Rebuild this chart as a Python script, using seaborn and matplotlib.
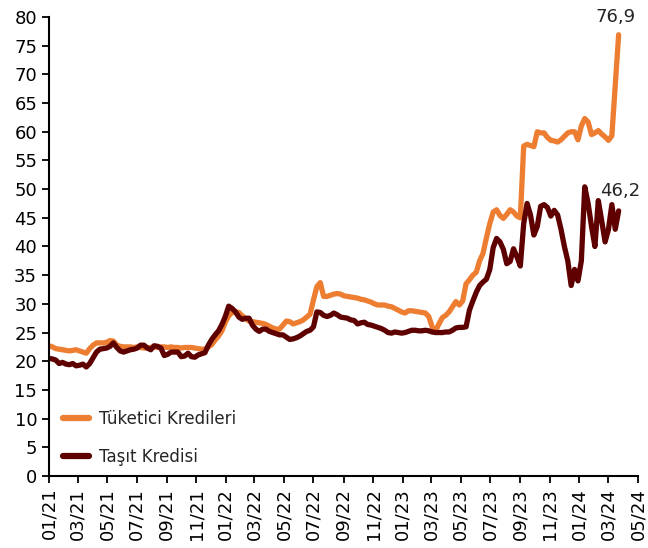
import matplotlib
matplotlib.use("Agg")
import matplotlib.pyplot as plt
import matplotlib.dates as mdates
import seaborn as sns
import pandas as pd

start_date = "2021-01-01"
n_weeks = 169

tuketici = [
    22.7, 22.5, 22.2, 22.1, 22.0, 21.9, 21.8, 21.9, 22.0, 21.8,
    21.6, 21.4, 22.2, 22.8, 23.2, 23.2, 23.2, 23.3, 23.6, 23.5,
    22.8, 22.6, 22.5, 22.5, 22.5, 22.4, 22.5, 22.4, 22.3, 22.3,
    22.4, 22.5, 22.4, 22.5, 22.5, 22.4, 22.5, 22.4, 22.4, 22.3,
    22.4, 22.4, 22.4, 22.3, 22.2, 22.1, 22.1, 22.5, 22.9, 23.7,
    24.4, 25.3, 26.8, 27.9, 28.5, 28.6, 28.5, 27.9, 27.4, 27.0,
    26.9, 26.8, 26.7, 26.6, 26.4, 26.1, 25.8, 25.6, 25.6, 26.3,
    27.0, 26.9, 26.5, 26.7, 26.9, 27.2, 27.7, 28.2, 30.7, 33.0,
    33.7, 31.3, 31.3, 31.5, 31.7, 31.8, 31.7, 31.4, 31.3, 31.2,
    31.1, 31.0, 30.8, 30.7, 30.5, 30.3, 30.0, 29.8, 29.8, 29.8,
    29.6, 29.5, 29.2, 28.9, 28.6, 28.4, 28.8, 28.8, 28.7, 28.6,
    28.5, 28.4, 27.8, 26.0, 25.3, 26.5, 27.6, 28.0, 28.6, 29.5,
    30.4, 29.8, 30.5, 33.5, 34.2, 35.0, 35.5, 37.5, 38.8, 41.5,
    44.0, 46.0, 46.4, 45.4, 44.9, 45.6, 46.4, 46.0, 45.3, 45.0,
    57.5, 57.8, 57.6, 57.4, 60.0, 59.8, 59.8, 59.0, 58.5, 58.4,
    58.2, 58.6, 59.2, 59.8, 60.0, 60.0, 58.6, 61.0, 62.3, 61.7,
    59.5, 59.8, 60.2, 59.6, 59.1, 58.5, 59.3, 68.0, 76.9,
]

tasit = [
    20.5, 20.4, 20.2, 19.6, 19.8, 19.5, 19.4, 19.6, 19.2, 19.3,
    19.5, 19.0, 19.6, 20.6, 21.6, 22.1, 22.2, 22.3, 22.6, 23.2,
    22.4, 21.8, 21.6, 21.8, 22.0, 22.1, 22.3, 22.8, 22.8, 22.3,
    22.0, 22.7, 22.6, 22.3, 21.0, 21.2, 21.6, 21.6, 21.6, 20.8,
    20.9, 21.4, 20.8, 20.7, 21.1, 21.3, 21.5, 22.8, 23.8, 24.6,
    25.3, 26.4, 27.8, 29.6, 29.2, 28.6, 27.7, 27.3, 27.5, 27.5,
    26.3, 25.6, 25.2, 25.6, 25.6, 25.2, 25.0, 24.8, 24.6, 24.6,
    24.2, 23.8, 23.9, 24.1, 24.4, 24.8, 25.2, 25.4, 26.0, 28.6,
    28.5, 28.0, 27.8, 28.0, 28.4, 28.1, 27.7, 27.6, 27.5, 27.2,
    27.1, 26.5, 26.7, 26.8, 26.4, 26.3, 26.1, 25.9, 25.7, 25.4,
    25.0, 24.9, 25.1, 25.0, 24.9, 25.0, 25.2, 25.4, 25.4, 25.3,
    25.3, 25.4, 25.3, 25.1, 25.0, 25.0, 25.0, 25.1, 25.1, 25.4,
    25.8, 25.9, 25.9, 26.0, 28.9, 30.5, 32.0, 33.2, 33.8, 34.3,
    36.0, 39.8, 41.4, 40.8, 39.5, 37.0, 37.4, 39.6, 38.2, 36.6,
    44.0, 47.5, 45.5, 42.0, 43.5, 47.0, 47.3, 46.8, 45.3, 46.3,
    45.5, 43.0, 40.0, 37.5, 33.2, 36.0, 34.0, 37.5, 50.4, 47.5,
    43.5, 40.0, 48.0, 44.5, 40.8, 43.0, 47.3, 43.0, 46.2,
]

series_names = ["Tüketici Kredileri", "Taşıt Kredisi"]
colors = ["#ED7D31", "#5E0000"]
end_labels = ["76,9", "46,2"]

sns.set_style("white")
plt.rcParams["font.family"] = ["DejaVu Sans"]

dates = pd.date_range(start_date, periods=n_weeks, freq="7D")
df = pd.DataFrame({"Tarih": list(dates) * 2,
                   "Değer": tuketici + tasit,
                   "Seri": [series_names[0]] * n_weeks + [series_names[1]] * n_weeks})

fig = plt.figure(figsize=(6.48, 5.48), dpi=100)
ax = fig.add_axes([0.0756, 0.1314, 0.909, 0.8376])

sns.lineplot(data=df, x="Tarih", y="Değer", hue="Seri", palette=colors,
             hue_order=series_names, linewidth=3.8, ax=ax, legend=True)

ax.set_ylim(0, 80)
ax.set_yticks(range(0, 81, 5))
ax.set_xlim(pd.Timestamp("2021-01-01"), pd.Timestamp("2024-05-01"))
ax.xaxis.set_major_locator(mdates.MonthLocator(bymonth=[1, 3, 5, 7, 9, 11]))
ax.xaxis.set_major_formatter(mdates.DateFormatter("%m/%y"))
ax.set_xlabel("")
ax.set_ylabel("")

for s in ["top", "right"]:
    ax.spines[s].set_visible(False)
for s in ["left", "bottom"]:
    ax.spines[s].set_color("black")
    ax.spines[s].set_linewidth(1.5)

ax.tick_params(axis="both", which="major", direction="out", length=5, width=1.3,
               colors="black", labelsize=13, left=True, bottom=True)
plt.setp(ax.get_xticklabels(), rotation=90)

ax.annotate(end_labels[0], xy=(dates[-1], tuketici[-1]), xytext=(-2, 6),
            textcoords="offset points", ha="center", va="bottom", fontsize=13,
            annotation_clip=False)
ax.annotate(end_labels[1], xy=(dates[-1], tasit[-1]), xytext=(1, 8),
            textcoords="offset points", ha="center", va="bottom", fontsize=13)

leg = ax.legend(loc="lower left", bbox_to_anchor=(0.007, 0.0), frameon=False,
                fontsize=12, handlelength=1.55, handletextpad=0.6,
                labelspacing=1.2, borderpad=0.1, title=None)
for line in leg.get_lines():
    line.set_linewidth(4.5)

fig.savefig("out.png", dpi=100)
